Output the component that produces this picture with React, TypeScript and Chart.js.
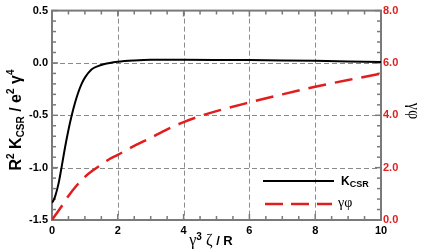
import React, { useEffect, useRef } from "react";
import { Chart, registerables } from "chart.js";
Chart.register(...registerables);

// ---- data ----
const xK = [0, 0.05, 0.1, 0.2, 0.3, 0.4, 0.5, 0.6, 0.7, 0.8, 0.9, 1.0, 1.2, 1.4, 1.6, 1.8, 2.0, 2.5, 3, 4, 5, 6, 7, 8, 9, 10];
const kCSR = [-1.335, -1.31, -1.27, -1.15, -0.98, -0.8, -0.64, -0.5, -0.38, -0.28, -0.2, -0.14, -0.062, -0.03, -0.01, 0.002, 0.012, 0.024, 0.03, 0.03, 0.029, 0.027, 0.024, 0.02, 0.015, 0.01];

const xPhi = [0, 0.25, 0.5, 0.75, 1, 1.25, 1.5, 1.75, 2, 2.5, 3, 3.5, 4, 4.5, 5, 6, 7, 8, 9, 10];
const gammaPhi = [0, 0.45, 0.92, 1.32, 1.65, 1.9, 2.12, 2.33, 2.49, 2.83, 3.14, 3.46, 3.74, 3.97, 4.16, 4.49, 4.8, 5.09, 5.35, 5.59];

const xTickStep = 2;
const xMinorStep = 0.5;
const yLeftRange = [-1.5, 0.5];
const yLeftStep = 0.5;
const yLeftMinor = 0.1;
const yRightRange = [0, 8];
const yRightStep = 2;
const yRightMinor = 0.4;

const RED = "#e11d1d";
const FRAME = "#7a7a7a";
const SANS = "'Liberation Sans', Arial, sans-serif";
const SERIF = "'Liberation Serif', 'DejaVu Serif', serif";

type Part = { t: string; f: string; dy?: number };

function drawParts(ctx: CanvasRenderingContext2D, parts: Part[], x: number, y: number, align: "center" | "left") {
  let w = 0;
  for (const p of parts) {
    ctx.font = p.f;
    w += ctx.measureText(p.t).width;
  }
  let cx = align === "center" ? x - w / 2 : x;
  ctx.textBaseline = "alphabetic";
  ctx.textAlign = "left";
  for (const p of parts) {
    ctx.font = p.f;
    ctx.fillText(p.t, cx, y + (p.dy || 0));
    cx += ctx.measureText(p.t).width;
  }
}

const framePlugin = {
  id: "frame",
  beforeDatasetsDraw(chart: any) {
    const { ctx, chartArea: a, scales } = chart;
    const xs = scales.x, yl = scales.y, yr = scales.y2;
    ctx.save();
    // dashed grid
    ctx.strokeStyle = "#8a8a8a";
    ctx.lineWidth = 1;
    ctx.setLineDash([5, 3]);
    for (let v = xs.min + xTickStep; v < xs.max - 1e-9; v += xTickStep) {
      const px = Math.round(xs.getPixelForValue(v)) + 0.5;
      ctx.beginPath(); ctx.moveTo(px, a.top); ctx.lineTo(px, a.bottom); ctx.stroke();
    }
    for (let v = yl.min + yLeftStep; v < yl.max - 1e-9; v += yLeftStep) {
      const py = Math.round(yl.getPixelForValue(v)) + 0.5;
      ctx.beginPath(); ctx.moveTo(a.left, py); ctx.lineTo(a.right, py); ctx.stroke();
    }
    ctx.setLineDash([]);
    // ticks
    ctx.strokeStyle = FRAME;
    ctx.lineWidth = 1.5;
    const nX = Math.round((xs.max - xs.min) / xMinorStep);
    for (let i = 0; i <= nX; i++) {
      const v = xs.min + i * xMinorStep;
      const px = xs.getPixelForValue(v);
      const major = Math.abs(v / xTickStep - Math.round(v / xTickStep)) < 1e-6;
      const len = major ? 6 : 4;
      ctx.beginPath();
      ctx.moveTo(px, a.bottom); ctx.lineTo(px, a.bottom - len);
      ctx.moveTo(px, a.top); ctx.lineTo(px, a.top + len);
      ctx.stroke();
    }
    const nL = Math.round((yl.max - yl.min) / yLeftMinor);
    for (let i = 0; i <= nL; i++) {
      const v = yl.min + i * yLeftMinor;
      const py = yl.getPixelForValue(v);
      const major = Math.abs(v / yLeftStep - Math.round(v / yLeftStep)) < 1e-6;
      const len = major ? 6 : 4;
      ctx.beginPath(); ctx.moveTo(a.left, py); ctx.lineTo(a.left + len, py); ctx.stroke();
    }
    const nR = Math.round((yr.max - yr.min) / yRightMinor);
    for (let i = 0; i <= nR; i++) {
      const v = yr.min + i * yRightMinor;
      const py = yr.getPixelForValue(v);
      const major = Math.abs(v / yRightStep - Math.round(v / yRightStep)) < 1e-6;
      const len = major ? 6 : 4;
      ctx.beginPath(); ctx.moveTo(a.right, py); ctx.lineTo(a.right - len, py); ctx.stroke();
    }
    // frame
    ctx.lineWidth = 2;
    ctx.strokeRect(a.left, a.top, a.right - a.left, a.bottom - a.top);
    ctx.restore();
  },
  afterDraw(chart: any) {
    const { ctx } = chart;
    ctx.save();
    ctx.fillStyle = "#000";
    // left title
    ctx.save();
    ctx.translate(21, 120);
    ctx.rotate(-Math.PI / 2);
    drawParts(ctx, [
      { t: "R", f: `bold 16px ${SANS}` },
      { t: "2", f: `bold 10px ${SANS}`, dy: -7 },
      { t: " K", f: `bold 16px ${SANS}` },
      { t: "CSR", f: `bold 10px ${SANS}`, dy: 3 },
      { t: " / e", f: `bold 16px ${SANS}` },
      { t: "2", f: `bold 10px ${SANS}`, dy: -7 },
      { t: " γ", f: `bold 16px ${SANS}` },
      { t: "4", f: `bold 10px ${SANS}`, dy: -7 },
    ], 0, 0, "center");
    ctx.restore();
    // right title
    ctx.save();
    ctx.translate(409, 111);
    ctx.rotate(Math.PI / 2);
    drawParts(ctx, [{ t: "γφ", f: `16px ${SERIF}` }], 0, 0, "center");
    ctx.restore();
    // x title
    drawParts(ctx, [
      { t: "γ", f: `16px ${SERIF}` },
      { t: "3", f: `bold 10px ${SANS}`, dy: -5 },
      { t: " ζ", f: `16px ${SERIF}` },
      { t: " / R", f: `bold 13px ${SANS}` },
    ], 211, 245, "center");
    // legend
    ctx.strokeStyle = "#000";
    ctx.lineWidth = 2;
    ctx.beginPath(); ctx.moveTo(263, 181); ctx.lineTo(334, 181); ctx.stroke();
    drawParts(ctx, [
      { t: "K", f: `bold 12px ${SANS}` },
      { t: "CSR", f: `bold 9px ${SANS}`, dy: 2 },
    ], 341, 185, "left");
    ctx.strokeStyle = RED;
    ctx.lineWidth = 2.5;
    ctx.setLineDash([18, 8]);
    ctx.beginPath(); ctx.moveTo(265, 204); ctx.lineTo(332, 204); ctx.stroke();
    ctx.setLineDash([]);
    drawParts(ctx, [{ t: "γφ", f: `14px ${SERIF}` }], 338, 207, "left");
    ctx.restore();
  },
};

export default function App() {
  const ref = useRef<HTMLCanvasElement | null>(null);
  useEffect(() => {
    if (!ref.current) return;
    const chart = new Chart(ref.current, {
      type: "line",
      data: {
        datasets: [
          {
            label: "KCSR",
            data: xK.map((x, i) => ({ x, y: kCSR[i] })),
            yAxisID: "y",
            borderColor: "#000",
            borderWidth: 2,
            pointRadius: 0,
            cubicInterpolationMode: "monotone",
            fill: false,
          },
          {
            label: "γφ",
            data: xPhi.map((x, i) => ({ x, y: gammaPhi[i] })),
            yAxisID: "y2",
            borderColor: RED,
            borderWidth: 2.5,
            borderDash: [18, 9],
            pointRadius: 0,
            cubicInterpolationMode: "monotone",
            fill: false,
          },
        ],
      },
      options: {
        animation: false,
        responsive: false,
        devicePixelRatio: 1,
        layout: { padding: { top: 10, left: 0, right: 0, bottom: 0 } },
        plugins: { legend: { display: false }, tooltip: { enabled: false } },
        scales: {
          x: {
            type: "linear",
            min: 0,
            max: 10,
            grid: { display: false, drawTicks: false, tickLength: 0 },
            border: { display: false },
            ticks: {
              stepSize: xTickStep,
              color: "#000",
              font: { family: SANS, weight: "bold", size: 11 },
              padding: 4,
              maxRotation: 0,
              callback: (v: any) => String(v),
            },
            afterFit: (s: any) => { s.height = 31; },
          },
          y: {
            type: "linear",
            position: "left",
            min: yLeftRange[0],
            max: yLeftRange[1],
            grid: { display: false, drawTicks: false, tickLength: 0 },
            border: { display: false },
            ticks: {
              stepSize: yLeftStep,
              color: "#000",
              font: { family: SANS, weight: "bold", size: 11 },
              padding: 4,
              callback: (v: any) => Number(v).toFixed(1),
            },
            afterFit: (s: any) => { s.width = 52; },
          },
          y2: {
            type: "linear",
            position: "right",
            min: yRightRange[0],
            max: yRightRange[1],
            grid: { display: false, drawTicks: false, tickLength: 0 },
            border: { display: false },
            ticks: {
              stepSize: yRightStep,
              color: RED,
              font: { family: SANS, weight: "bold", size: 11 },
              padding: 2,
              callback: (v: any) => Number(v).toFixed(1),
            },
            afterFit: (s: any) => { s.width = 48; },
          },
        },
      } as any,
      plugins: [framePlugin],
    });
    return () => chart.destroy();
  }, []);
  return (
    <div style={{ position: "fixed", left: 0, top: 0, width: 429, height: 251, background: "#fff" }}>
      <canvas ref={ref} width={429} height={251} style={{ width: 429, height: 251, display: "block" }} />
    </div>
  );
}
